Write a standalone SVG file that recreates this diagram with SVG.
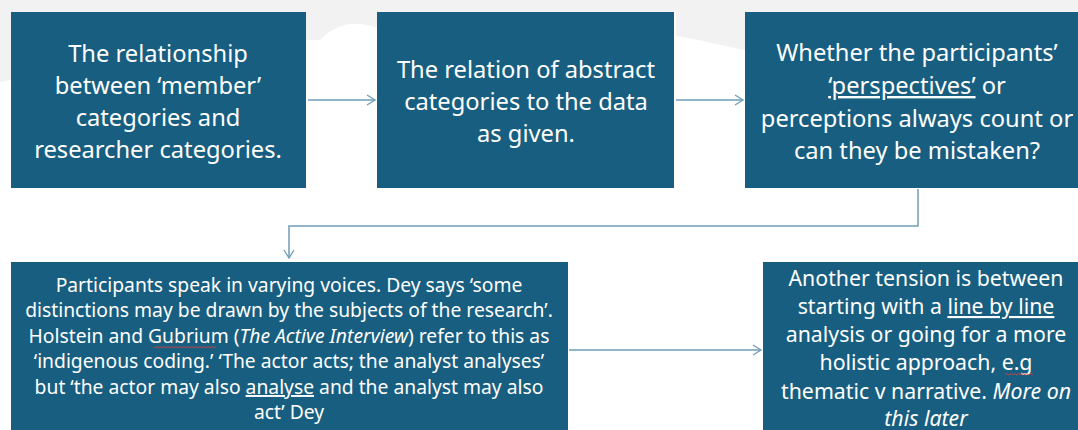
<svg xmlns="http://www.w3.org/2000/svg" width="1078" height="430" viewBox="0 0 1078 430">
<style>
.box{fill:#175e80}
.t{font-family:"Noto Sans","Liberation Sans",sans-serif;fill:#ffffff;text-anchor:middle}
.big{font-size:23.7px}
.mid{font-size:21.3px}
.sm{font-size:19.3px}
.con{fill:none;stroke:#6f9db8;stroke-width:1.5}
.u{text-decoration:underline}
.wavy{fill:none;stroke:#d04040;stroke-width:0.9}
</style>
<defs>
<marker id="ah" markerWidth="12" markerHeight="12" refX="10" refY="6" orient="auto" markerUnits="userSpaceOnUse">
<path d="M2,1 L10,6 L2,11" fill="none" stroke="#6f9db8" stroke-width="1.3"/>
</marker>
</defs>
<rect width="1078" height="430" fill="#ffffff"/>
<path d="M0,0 H1078 V22 C1040,14 1000,22 960,12 L745,12 V50 C720,45 700,40 676,36 V12 H377 V28 C360,22 340,20 320,40 L306,40 V12 H11 V80 L0,82 Z" fill="#f2f2f2"/>
<g id="connectors">
<line class="con" x1="308" y1="100" x2="375" y2="100" marker-end="url(#ah)"/>
<line class="con" x1="676" y1="100" x2="743" y2="100" marker-end="url(#ah)"/>
<polyline class="con" points="918,189 918,226 289,226 289,258" marker-end="url(#ah)"/>
<line class="con" x1="569" y1="350" x2="761" y2="350" marker-end="url(#ah)"/>
</g>
<g id="node1">
<rect class="box" x="11" y="12" width="295" height="176"/>
<text class="t big"><tspan x="158" y="62">The relationship</tspan><tspan x="158" y="94">between ‘member’</tspan><tspan x="158" y="126">categories and</tspan><tspan x="158" y="158">researcher categories.</tspan></text>
</g>
<g id="node2">
<rect class="box" x="377" y="12" width="297" height="176"/>
<text class="t big"><tspan x="526" y="78">The relation of abstract</tspan><tspan x="526" y="110">categories to the data</tspan><tspan x="526" y="142">as given.</tspan></text>
</g>
<g id="node3">
<rect class="box" x="745" y="12" width="333" height="176"/>
<text class="t big"><tspan x="917" y="61">Whether the participants’</tspan><tspan x="917" y="94"><tspan class="u">‘perspectives’</tspan> or</tspan><tspan x="917" y="127">perceptions always count or</tspan><tspan x="917" y="159">can they be mistaken?</tspan></text>
</g>
<g id="node4">
<rect class="box" x="11" y="262" width="557" height="180"/>
<text class="t sm"><tspan x="289" y="292">Participants speak in varying voices. Dey says ‘some</tspan><tspan x="289" y="317">distinctions may be drawn by the subjects of the research’.</tspan><tspan x="289" y="343">Holstein and Gubrium (<tspan font-style="italic">The Active Interview</tspan>) refer to this as</tspan><tspan x="289" y="368">‘indigenous coding.’ ‘The actor acts; the analyst analyses’</tspan><tspan x="289" y="394">but ‘the actor may also <tspan class="u">analyse</tspan> and the analyst may also</tspan><tspan x="289" y="419">act’ Dey</tspan></text>
<path class="wavy" d="M154,348 l2,-1.5 l2,1.5 l2,-1.5 l2,1.5 l2,-1.5 l2,1.5 l2,-1.5 l2,1.5 l2,-1.5 l2,1.5 l2,-1.5 l2,1.5 l2,-1.5 l2,1.5 l2,-1.5 l2,1.5 l2,-1.5 l2,1.5 l2,-1.5 l2,1.5 l2,-1.5 l2,1.5 l2,-1.5 l2,1.5 l2,-1.5 l2,1.5 l2,-1.5 l2,1.5 l2,-1.5 l2,1.5 l2,-1.5"/>
</g>
<g id="node5">
<rect class="box" x="763" y="262" width="315" height="180"/>
<text class="t mid"><tspan x="926" y="286">Another tension is between</tspan><tspan x="926" y="314">starting with a <tspan class="u">line by line</tspan></tspan><tspan x="926" y="342">analysis or going for a more</tspan><tspan x="926" y="370">holistic approach, e.g</tspan><tspan x="926" y="399">thematic v narrative. <tspan font-style="italic">More on</tspan></tspan><tspan x="926" y="426" font-style="italic">this later</tspan></text>
<path class="wavy" d="M1005,375 l2,-1.5 l2,1.5 l2,-1.5 l2,1.5 l2,-1.5 l2,1.5 l2,-1.5 l2,1.5 l2,-1.5 l2,1.5 l2,-1.5 l2,1.5 l2,-1.5 l2,1.5"/>
</g>
</svg>
